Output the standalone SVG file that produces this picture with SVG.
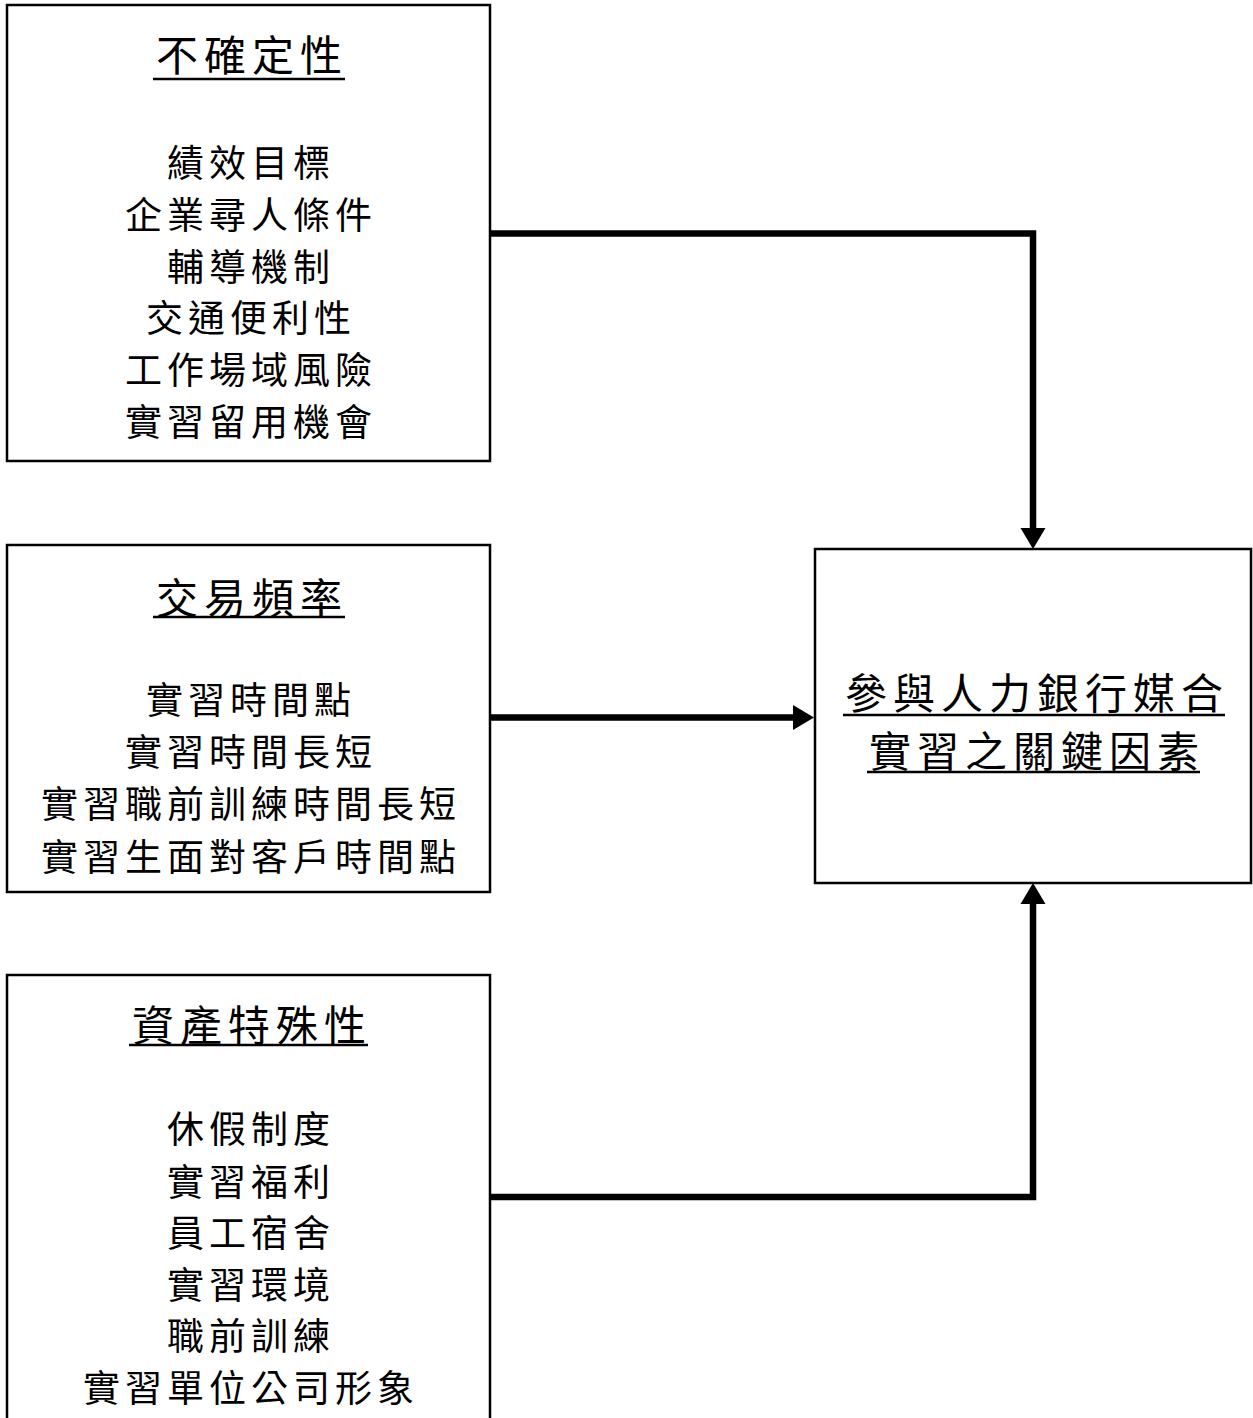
<svg xmlns="http://www.w3.org/2000/svg" width="1253" height="1418" viewBox="0 0 1253 1418">
<style>
.box{fill:#fff;stroke:#000;stroke-width:2.5}
.t{font-family:"Noto Sans CJK TC","Noto Sans CJK SC",sans-serif;fill:#000;text-anchor:middle;dominant-baseline:central}
.h{font-size:42px;letter-spacing:6px}
.b{font-size:37px;letter-spacing:5px}
.ul{stroke:#000;stroke-width:2.5}
.c{fill:none;stroke:#000;stroke-width:6.5;stroke-linejoin:miter}
.ah{fill:#000}
</style>
<rect width="1253" height="1418" fill="#fff"/>
<g id="connectors">
<path class="c" d="M490 233.5 H1033 V530"/>
<polygon class="ah" points="1020.5,528 1045.5,528 1033,549"/>
<path class="c" d="M490 717.5 H795"/>
<polygon class="ah" points="793,705 793,730 814,717.5"/>
<path class="c" d="M490 1197 H1033 V902"/>
<polygon class="ah" points="1020.5,904 1045.5,904 1033,883"/>
</g>
<g id="uncertainty">
<rect class="box" x="7" y="5" width="483" height="456"/>
<text class="t h" x="252" y="52">不確定性</text>
<line class="ul" x1="153" y1="79" x2="345" y2="79"/>
<text class="t b" x="251" y="161">績效目標</text>
<text class="t b" x="251" y="213">企業尋人條件</text>
<text class="t b" x="251" y="265">輔導機制</text>
<text class="t b" x="251" y="316">交通便利性</text>
<text class="t b" x="251" y="368">工作場域風險</text>
<text class="t b" x="251" y="420">實習留用機會</text>
</g>
<g id="frequency">
<rect class="box" x="7" y="545" width="483" height="347"/>
<text class="t h" x="252" y="595">交易頻率</text>
<line class="ul" x1="153" y1="617" x2="345" y2="617"/>
<text class="t b" x="251" y="698">實習時間點</text>
<text class="t b" x="251" y="750">實習時間長短</text>
<text class="t b" x="251" y="802">實習職前訓練時間長短</text>
<text class="t b" x="251" y="855">實習生面對客戶時間點</text>
</g>
<g id="asset">
<rect class="box" x="7" y="975" width="483" height="460"/>
<text class="t h" x="252" y="1022">資產特殊性</text>
<line class="ul" x1="129" y1="1045" x2="368" y2="1045"/>
<text class="t b" x="251" y="1127">休假制度</text>
<text class="t b" x="251" y="1180">實習福利</text>
<text class="t b" x="251" y="1231">員工宿舍</text>
<text class="t b" x="251" y="1283">實習環境</text>
<text class="t b" x="251" y="1334">職前訓練</text>
<text class="t b" x="251" y="1386">實習單位公司形象</text>
</g>
<g id="key-factors">
<rect class="box" x="815" y="549" width="436" height="334"/>
<text class="t h" x="1037" y="690">參與人力銀行媒合</text>
<line class="ul" x1="843" y1="715" x2="1225" y2="715"/>
<text class="t h" x="1037" y="748">實習之關鍵因素</text>
<line class="ul" x1="867" y1="772" x2="1200" y2="772"/>
</g>
</svg>
